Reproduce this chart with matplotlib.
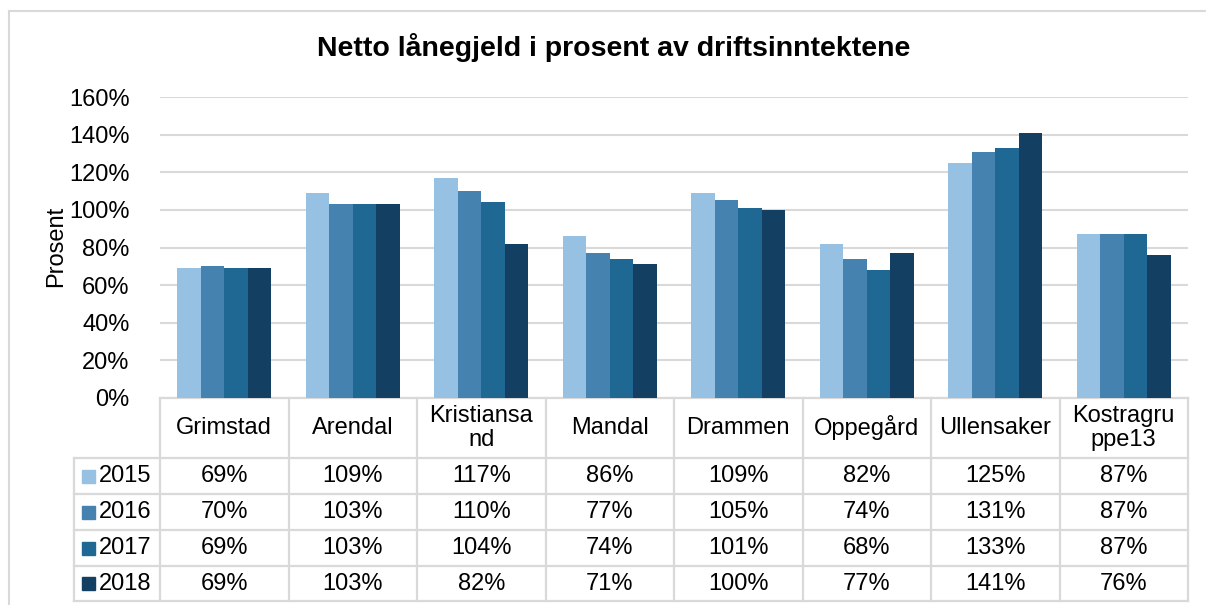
import numpy as np
import matplotlib
matplotlib.use("Agg")
import matplotlib.pyplot as plt
from matplotlib.lines import Line2D
from matplotlib.patches import Rectangle

plt.rcParams["font.family"] = ["Liberation Sans", "DejaVu Sans"]

# ── Data ─────────────────────────────────────────────────────────────────────
kommuner = ["Grimstad", "Arendal", "Kristiansand", "Mandal", "Drammen",
            "Oppegård", "Ullensaker", "Kostragruppe13"]
kommune_labels = ["Grimstad", "Arendal", "Kristiansa\nnd", "Mandal", "Drammen",
                  "Oppegård", "Ullensaker", "Kostragru\nppe13"]
years = ["2015", "2016", "2017", "2018"]
v2015 = [69, 109, 117, 86, 109, 82, 125, 87]
v2016 = [70, 103, 110, 77, 105, 74, 131, 87]
v2017 = [69, 103, 104, 74, 101, 68, 133, 87]
v2018 = [69, 103, 82, 71, 100, 77, 141, 76]
series = [v2015, v2016, v2017, v2018]
yticks = [0, 20, 40, 60, 80, 100, 120, 140, 160]

colors = ["#97C1E3", "#4682B0", "#206894", "#134062"]
GRID = "#D9D9D9"
FS = 17

# ── Figure ───────────────────────────────────────────────────────────────────
W, H = 1206, 605
fig = plt.figure(figsize=(W / 100, H / 100), dpi=100)
fig.patch.set_facecolor("white")

# axes placed in pixel terms
ax_l, ax_r, ax_t, ax_b = 160, 1188, 97, 398
ax = fig.add_axes([ax_l / W, 1 - ax_b / H, (ax_r - ax_l) / W, (ax_b - ax_t) / H])

x = np.arange(len(kommuner))
bw = 0.183
for i, vals in enumerate(series):
    ax.bar(x + (i - 1.5) * bw, vals, width=bw, color=colors[i], zorder=3,
           linewidth=0)

ax.set_xlim(-0.5, len(kommuner) - 0.5)
ax.set_ylim(0, 160)
ax.set_yticks(yticks)
ax.set_yticklabels([f"{t}%" for t in yticks], fontsize=FS)
ax.tick_params(axis="y", length=0, pad=22)
ax.set_xticks([])
for s in ax.spines.values():
    s.set_visible(False)
ax.grid(axis="y", color=GRID, linewidth=1.5, zorder=0)
ax.set_axisbelow(True)

fig.text(56 / W, 1 - 246 / H, "Prosent", rotation=90, fontsize=FS,
         ha="center", va="center")
fig.text(614 / W, 1 - 47 / H, "Netto lånegjeld i prosent av driftsinntektene",
         fontsize=20.5, fontweight="bold", ha="center", va="center")

# ── Data table under the bars ────────────────────────────────────────────────
axh = ax_b - ax_t
def yf(py):
    return (ax_b - py) / axh

tr = ax.get_xaxis_transform()
row_edges = [398, 458, 494, 530, 566, 601]
x_left = -0.5 - (ax_l - 74) / ((ax_r - ax_l) / len(kommuner))
col_edges = np.arange(len(kommuner) + 1) - 0.5

lkw = dict(color=GRID, linewidth=1.6, transform=tr, clip_on=False)
# horizontal lines
ax.add_line(Line2D([col_edges[0], col_edges[-1]], [yf(row_edges[0])] * 2, **lkw))
for py in row_edges[1:]:
    ax.add_line(Line2D([x_left, col_edges[-1]], [yf(py)] * 2, **lkw))
# vertical lines
for cx in col_edges:
    ax.add_line(Line2D([cx, cx], [yf(row_edges[0]), yf(row_edges[-1])], **lkw))
ax.add_line(Line2D([x_left, x_left], [yf(row_edges[1]), yf(row_edges[-1])], **lkw))

# header
for xi, lab in zip(x, kommune_labels):
    ax.text(xi, yf(428), lab, transform=tr, ha="center", va="center",
            fontsize=FS, linespacing=1.15, clip_on=False)

# rows
px_unit = (ax_r - ax_l) / len(kommuner)
for r, (yr, vals) in enumerate(zip(years, series)):
    yc = (row_edges[r + 1] + row_edges[r + 2]) / 2
    for xi, v in zip(x, vals):
        ax.text(xi, yf(yc), f"{v}%", transform=tr, ha="center", va="center",
                fontsize=FS, clip_on=False)
    sq = 13
    ax.add_patch(Rectangle((x_left + 8 / px_unit, yf(yc + sq / 2)),
                           sq / px_unit, sq / axh, transform=tr,
                           color=colors[r], clip_on=False))
    ax.text(x_left + 25 / px_unit, yf(yc), yr, transform=tr, ha="left",
            va="center", fontsize=FS, clip_on=False)

# ── Outer chart border ───────────────────────────────────────────────────────
fig.add_artist(Line2D([9 / W, 1], [1 - 11 / H] * 2, color=GRID, linewidth=1.5,
                      transform=fig.transFigure))
fig.add_artist(Line2D([9 / W, 9 / W], [0, 1 - 11 / H], color=GRID, linewidth=1.5,
                      transform=fig.transFigure))

fig.savefig("out.png", dpi=100, facecolor="white")
